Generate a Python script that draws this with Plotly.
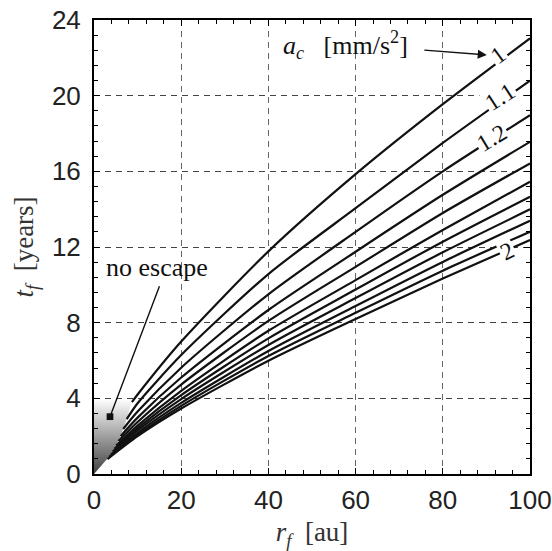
import plotly.graph_objects as go

# ---- data ----
a_values = [1.0, 1.1, 1.2, 1.3, 1.4, 1.5, 1.6, 1.7, 1.8, 1.9, 2.0]
r_start = [8.7, 7.5, 6.7, 6.1, 5.6, 5.1, 4.7, 4.3, 3.9, 3.5, 3.1]
t_start = [3.8, 2.9, 2.38, 2.0, 1.75, 1.51, 1.33, 1.18, 1.03, 0.91, 0.79]
r_grid = [10, 20, 40, 60, 80, 100]
t_r10 = [4.2, 3.74, 3.3, 2.98, 2.75, 2.56, 2.42, 2.3, 2.18, 2.08, 2.0]
t_r20 = [7.0, 6.29, 5.62, 5.1, 4.73, 4.4, 4.17, 3.96, 3.76, 3.6, 3.46]
t_r40 = [11.77, 10.57, 9.5, 8.67, 8.09, 7.57, 7.17, 6.82, 6.5, 6.24, 5.99]
t_r60 = [15.85, 14.05, 12.8, 11.75, 10.95, 10.25, 9.75, 9.3, 8.88, 8.52, 8.2]
t_r80 = [19.55, 17.5, 16.0, 14.76, 13.8, 12.9, 12.28, 11.72, 11.21, 10.75, 10.33]
t_r100 = [23.03, 20.8, 18.97, 17.56, 16.42, 15.45, 14.66, 13.99, 13.39, 12.81, 12.37]
no_escape_top = 3.9

x_ticks = [0, 20, 40, 60, 80, 100]
y_ticks = [0, 4, 8, 12, 16, 20, 24]

# curve labels: (text, r, t, angle)
label_text = ["1", "1.1", "1.2", "2"]
label_r = [92.7, 93.1, 91.2, 94.8]
label_t = [22.15, 19.94, 17.74, 11.8]
label_angle = [-36, -33, -31, -26]

SERIF = "Liberation Serif, Times New Roman, serif"
SANS = "Liberation Sans, Arial, sans-serif"

fig = go.Figure()

# no-escape shaded region (gradient)
bx = [0.0] + r_start[::-1] + [r_start[0], 0.0]
by = [0.0] + t_start[::-1] + [no_escape_top, no_escape_top]
fig.add_trace(go.Scatter(
    x=bx, y=by, mode="lines", fill="toself", line=dict(width=0),
    fillgradient=dict(type="vertical", start=0, stop=no_escape_top,
                      colorscale=[[0, "#404040"], [1, "#fbfbfb"]]),
    hoverinfo="skip", showlegend=False))

cols = [t_r10, t_r20, t_r40, t_r60, t_r80, t_r100]
for i, a in enumerate(a_values):
    xs = [r_start[i]] + r_grid
    ys = [t_start[i]] + [c[i] for c in cols]
    fig.add_trace(go.Scatter(
        x=xs, y=ys, mode="lines",
        line=dict(color="#111111", width=2.2, shape="spline", smoothing=0.7),
        showlegend=False, name=f"a_c={a}"))

annotations = []
for txt, r, t, ang in zip(label_text, label_r, label_t, label_angle):
    annotations.append(dict(
        x=r, y=t, xref="x", yref="y", text=txt, showarrow=False,
        textangle=ang, bgcolor="white", borderpad=1,
        font=dict(family=SERIF, size=24, color="#111111")))

# a_c label and arrow
annotations.append(dict(
    x=57.6, y=22.67, xref="x", yref="y",
    text="<i>a</i><sub><i>c</i></sub>   [mm/s<sup>2</sup>]",
    showarrow=False, font=dict(family=SERIF, size=26, color="#111111")))
annotations.append(dict(
    x=90.1, y=22.15, xref="x", yref="y", text="", showarrow=True,
    ax=-64, ay=-5, arrowhead=2, arrowsize=1.3, arrowwidth=1.4,
    arrowcolor="#111111"))

# no escape label and arrow
annotations.append(dict(
    x=14.45, y=10.9, xref="x", yref="y", text="no escape", showarrow=False,
    font=dict(family=SERIF, size=26, color="#111111")))
annotations.append(dict(
    x=3.67, y=3.03, xref="x", yref="y", text="", showarrow=True,
    ax=50, ay=-132, arrowhead=7, arrowsize=1.2, arrowwidth=1.4,
    arrowcolor="#111111"))

axis_common = dict(
    showline=True, linecolor="black", linewidth=2, mirror="ticks",
    ticks="inside", ticklen=6, tickwidth=1, tickcolor="black",
    showgrid=True, griddash="6px,5px", gridwidth=1,
    zeroline=False,
    tickfont=dict(family=SANS, size=26, color="#222222"),
)

fig.update_xaxes(
    **axis_common, range=[0, 100], tickvals=x_ticks, gridcolor="#666666",
    minor=dict(dtick=4, ticks="inside", ticklen=4, tickcolor="black", showgrid=False),
    title=dict(text="<i>r</i><sub><i>f</i></sub>  [au]", standoff=14,
               font=dict(family=SERIF, size=27, color="#333333")),
    ticklabelstandoff=2)
fig.update_yaxes(
    **axis_common, range=[0, 24], tickvals=y_ticks, gridcolor="#444444",
    minor=dict(dtick=0.8, ticks="inside", ticklen=4, tickcolor="black", showgrid=False),
    title=dict(text="<i>t</i><sub><i>f</i></sub>  [years]", standoff=10,
               font=dict(family=SERIF, size=27, color="#333333")),
    ticklabelstandoff=6)

fig.update_layout(
    width=552, height=551,
    margin=dict(l=94, r=22, t=20, b=77, autoexpand=False),
    paper_bgcolor="white", plot_bgcolor="white",
    annotations=annotations, showlegend=False)

fig.write_html("out.html")
